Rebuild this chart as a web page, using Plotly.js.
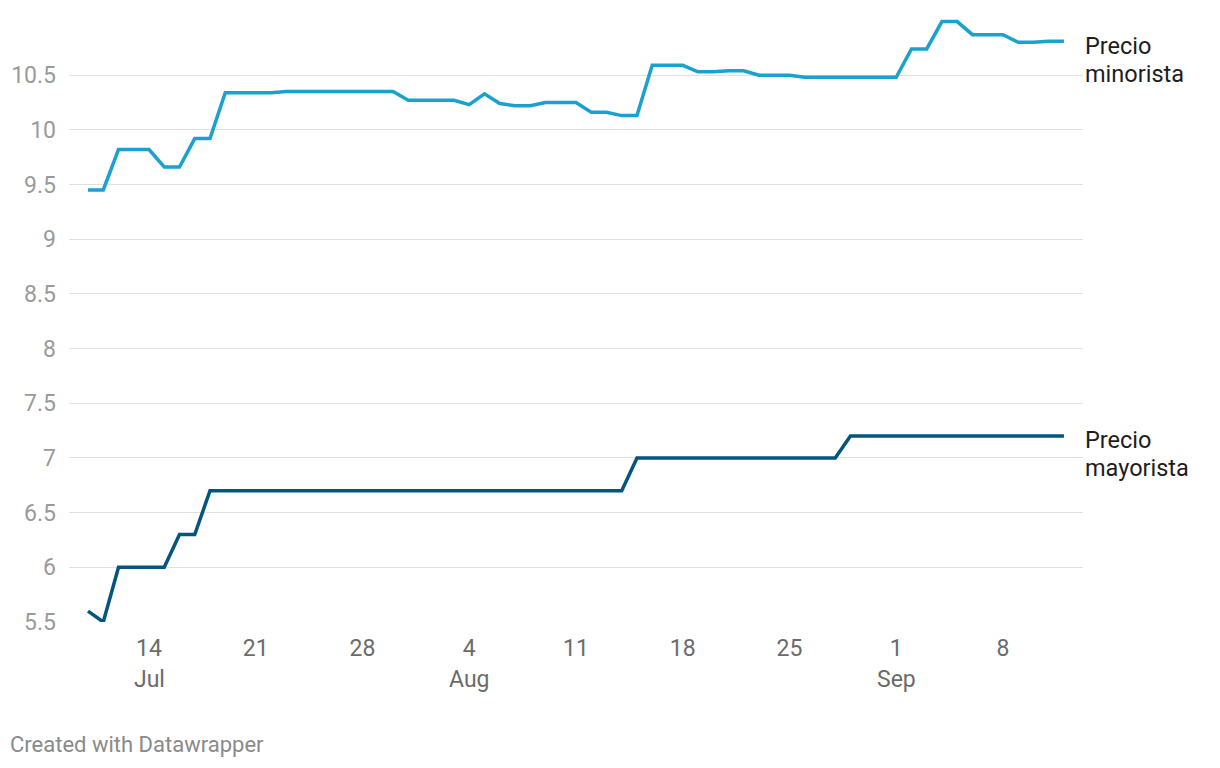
<!DOCTYPE html>
<html>
<head>
<meta charset="utf-8">
<script src="https://cdn.plot.ly/plotly-3.0.1.min.js"></script>
<style>
  html, body { margin: 0; padding: 0; background: #fff; }
  #chart { width: 1220px; height: 768px; }
</style>
</head>
<body>
<div id="chart"></div>
<script>
// Daily dates from 2025-07-10 to 2025-09-12
const startDate = "2025-07-10";
const dayCount = 65;

const precioMinorista = [
  9.45, 9.45, 9.82, 9.82, 9.82, 9.66, 9.66, 9.92, 9.92, 10.34,
  10.34, 10.34, 10.34, 10.35, 10.35, 10.35, 10.35, 10.35, 10.35, 10.35,
  10.35, 10.27, 10.27, 10.27, 10.27, 10.23, 10.33, 10.24, 10.22, 10.22,
  10.25, 10.25, 10.25, 10.16, 10.16, 10.13, 10.13, 10.59, 10.59, 10.59,
  10.53, 10.53, 10.54, 10.54, 10.50, 10.50, 10.50, 10.48, 10.48, 10.48,
  10.48, 10.48, 10.48, 10.48, 10.74, 10.74, 10.99, 10.99, 10.87, 10.87,
  10.87, 10.80, 10.80, 10.81, 10.81
];

const precioMayorista = [
  5.60, 5.50, 6.00, 6.00, 6.00, 6.00, 6.30, 6.30, 6.70, 6.70,
  6.70, 6.70, 6.70, 6.70, 6.70, 6.70, 6.70, 6.70, 6.70, 6.70,
  6.70, 6.70, 6.70, 6.70, 6.70, 6.70, 6.70, 6.70, 6.70, 6.70,
  6.70, 6.70, 6.70, 6.70, 6.70, 6.70, 7.00, 7.00, 7.00, 7.00,
  7.00, 7.00, 7.00, 7.00, 7.00, 7.00, 7.00, 7.00, 7.00, 7.00,
  7.20, 7.20, 7.20, 7.20, 7.20, 7.20, 7.20, 7.20, 7.20, 7.20,
  7.20, 7.20, 7.20, 7.20, 7.20
];

const xTickVals = ["2025-07-14", "2025-07-21", "2025-07-28", "2025-08-04", "2025-08-11",
                   "2025-08-18", "2025-08-25", "2025-09-01", "2025-09-08"];
const xTickText = ["14", "21", "28", "4", "11", "18", "25", "1", "8"];
const monthTickVals = ["2025-07-14", "2025-08-04", "2025-09-01"];
const monthTickText = ["Jul", "Aug", "Sep"];

const yTickVals = [5.5, 6, 6.5, 7, 7.5, 8, 8.5, 9, 9.5, 10, 10.5];
const yTickText = ["5.5", "6", "6.5", "7", "7.5", "8", "8.5", "9", "9.5", "10", "10.5"];

const seriesNames = ["Precio minorista", "Precio mayorista"];
const creditText = "Created with Datawrapper";

function buildDates(start, n) {
  const out = [];
  const [y, m, d] = start.split("-").map(Number);
  for (let i = 0; i < n; i++) {
    const dt = new Date(Date.UTC(y, m - 1, d + i));
    out.push(dt.toISOString().slice(0, 10));
  }
  return out;
}
const dates = buildDates(startDate, dayCount);

const FONT = "Roboto, 'Noto Sans', sans-serif";

const traces = [
  {
    x: dates, y: precioMinorista, type: "scatter", mode: "lines",
    line: { color: "#1aa1cf", width: 3.5 }, hoverinfo: "x+y", showlegend: false
  },
  {
    x: dates, y: precioMayorista, type: "scatter", mode: "lines",
    line: { color: "#04557e", width: 3.5 }, hoverinfo: "x+y", showlegend: false
  }
];

const annotations = [];
monthTickVals.forEach((v, i) => {
  annotations.push({
    x: v, xref: "x", y: -0.094, yref: "paper", yanchor: "middle", xanchor: "center",
    text: monthTickText[i], showarrow: false,
    font: { family: FONT, size: 23, color: "#6b6b6b" }
  });
});

function addSeriesLabel(name, lastVal, firstShift) {
  const words = name.split(" ");
  words.forEach((w, i) => {
    annotations.push({
      x: dates[dates.length - 1], xref: "x", y: lastVal, yref: "y",
      xanchor: "left", yanchor: "middle", xshift: 19, yshift: firstShift - 28 * i,
      text: w, showarrow: false, align: "left",
      font: { family: FONT, size: 23.5, color: "#1d1d1d" }
    });
  });
}
addSeriesLabel(seriesNames[0], precioMinorista[precioMinorista.length - 1], -5);
addSeriesLabel(seriesNames[1], precioMayorista[precioMayorista.length - 1], -4);

const layout = {
  width: 1220, height: 768,
  margin: { l: 69, r: 137, t: 15, b: 146 },
  paper_bgcolor: "#ffffff", plot_bgcolor: "#ffffff",
  font: { family: FONT },
  showlegend: false,
  xaxis: {
    type: "date",
    range: ["2025-07-08 18:05", "2025-09-13 06:00"],
    tickvals: xTickVals, ticktext: xTickText,
    showgrid: false, zeroline: false, showline: false, ticks: "",
    ticklabelstandoff: 10,
    tickfont: { family: FONT, size: 23, color: "#6b6b6b" },
    fixedrange: true
  },
  yaxis: {
    range: [5.5, 11.05],
    tickvals: yTickVals, ticktext: yTickText,
    showgrid: true, gridcolor: "#e0e0e0", gridwidth: 1,
    zeroline: false, showline: false, ticks: "",
    ticklabelstandoff: 12,
    tickfont: { family: FONT, size: 23, color: "#9a9a9a" },
    fixedrange: true
  },
  annotations: annotations
};

Plotly.newPlot("chart", traces, layout, { displayModeBar: false, staticPlot: true });
const credit = document.createElement("div");
credit.textContent = creditText;
credit.style.cssText = "position:absolute; left:10px; top:732px; font-family: Roboto, sans-serif; font-size:22px; color:#8a8a8a;";
document.body.appendChild(credit);
</script>
</body>
</html>
